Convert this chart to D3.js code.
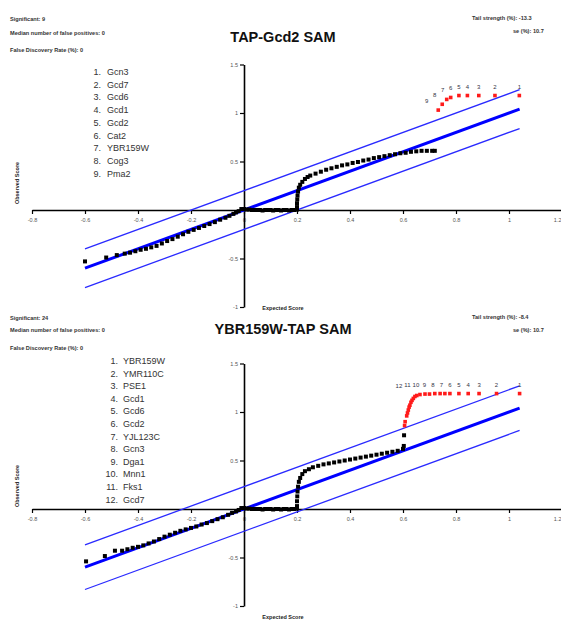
<!DOCTYPE html>
<html>
<head>
<meta charset="utf-8">
<script src="https://cdn.jsdelivr.net/npm/d3@7"></script>
<style>
  html, body { margin: 0; padding: 0; background: #fff; }
  svg { display: block; font-family: Arial, "Liberation Sans", sans-serif; }
</style>
</head>
<body>
<svg id="chart" width="561" height="621"></svg>
<script>
// ---------- DATA ----------
const xTicks = [-0.8, -0.6, -0.4, -0.2, 0, 0.2, 0.4, 0.6, 0.8, 1, 1.2];
const xTickLabels = ["-0.8", "-0.6", "-0.4", "-0.2", "0", "0.2", "0.4", "0.6", "0.8", "1", "1.2"];
const yTicks = [1.5, 1, 0.5, -0.5, -1];
const yTickLabels = ["1.5", "1", "0.5", "-0.5", "-1"];

// Panel 1: TAP-Gcd2 SAM
const title1 = "TAP-Gcd2 SAM";
const info1Left = ["Significant: 9", "Median number of false positives: 0", "False Discovery Rate (%): 0"];
const info1Right = ["Tail strength (%): -13.3", "se (%): 10.7"];
const genes1 = ["Gcn3", "Gcd7", "Gcd6", "Gcd1", "Gcd2", "Cat2", "YBR159W", "Cog3", "Pma2"];
const band1 = [-0.6, 1.04, 0.2]; // [start, end, delta] of reference lines
const black1Exp = [-0.60, -0.52, -0.48, -0.45, -0.43, -0.41, -0.39, -0.37, -0.35, -0.33, -0.31, -0.29, -0.27, -0.25, -0.23, -0.21, -0.19, -0.17, -0.15, -0.13, -0.11, -0.09, -0.07, -0.055, -0.04, -0.03, -0.02,
  -0.01, 0.00, 0.01, 0.02, 0.03, 0.04, 0.05, 0.06, 0.07, 0.08, 0.09, 0.10, 0.11, 0.12, 0.13, 0.14, 0.15, 0.16, 0.17, 0.18, 0.19, 0.20,
  0.200, 0.200, 0.201, 0.202, 0.204, 0.207, 0.212, 0.22, 0.23, 0.24, 0.25, 0.27, 0.29, 0.31, 0.33, 0.35, 0.37, 0.39, 0.41, 0.43, 0.45, 0.47, 0.49, 0.51, 0.53, 0.55, 0.57, 0.59, 0.61, 0.63, 0.65, 0.67, 0.69, 0.71, 0.72];
const black1Obs = [-0.53, -0.49, -0.465, -0.45, -0.44, -0.425, -0.41, -0.40, -0.385, -0.37, -0.345, -0.32, -0.30, -0.275, -0.25, -0.225, -0.205, -0.185, -0.165, -0.145, -0.125, -0.10, -0.08, -0.06, -0.04, -0.025, -0.012,
  0.01, 0.01, 0.005, 0.005, 0.0, 0.0, 0.0, 0.0, -0.005, 0.0, 0.0, 0.0, -0.005, 0.0, 0.0, -0.005, 0.0, 0.0, -0.005, 0.0, 0.0, 0.005,
  0.03, 0.07, 0.11, 0.15, 0.19, 0.23, 0.26, 0.29, 0.32, 0.34, 0.355, 0.375, 0.395, 0.415, 0.43, 0.445, 0.46, 0.47, 0.485, 0.495, 0.51, 0.52, 0.535, 0.545, 0.555, 0.565, 0.575, 0.585, 0.59, 0.60, 0.605, 0.61, 0.61, 0.61, 0.61];
const sig1Exp = [1.039, 0.947, 0.886, 0.843, 0.811, 0.78, 0.765, 0.748, 0.733];
const sig1Obs = [1.18, 1.18, 1.18, 1.18, 1.18, 1.16, 1.14, 1.09, 1.03];

// Panel 2: YBR159W-TAP SAM
const title2 = "YBR159W-TAP SAM";
const info2Left = ["Significant: 24", "Median number of false positives: 0", "False Discovery Rate (%): 0"];
const info2Right = ["Tail strength (%): -8.4", "se (%): 10.7"];
const genes2 = ["YBR159W", "YMR110C", "PSE1", "Gcd1", "Gcd6", "Gcd2", "YJL123C", "Gcn3", "Dga1", "Mnn1", "Fks1", "Gcd7"];
const band2 = [-0.6, 1.04, 0.23];
const black2Exp = [-0.596, -0.525, -0.487, -0.46, -0.44, -0.42, -0.40, -0.38, -0.36, -0.34, -0.32, -0.30, -0.28, -0.26, -0.24, -0.22, -0.20, -0.18, -0.16, -0.14, -0.12, -0.10, -0.08, -0.06, -0.045, -0.03, -0.02,
  -0.01, 0.00, 0.01, 0.02, 0.03, 0.04, 0.05, 0.06, 0.07, 0.08, 0.09, 0.10, 0.11, 0.12, 0.13, 0.14, 0.15, 0.16, 0.17, 0.18, 0.19, 0.20,
  0.200, 0.200, 0.201, 0.202, 0.204, 0.207, 0.212, 0.22, 0.23, 0.245, 0.26, 0.28, 0.30, 0.32, 0.34, 0.36, 0.38, 0.40, 0.42, 0.44, 0.46, 0.48, 0.50, 0.52, 0.54, 0.56, 0.58, 0.60, 0.603, 0.604];
const black2Obs = [-0.54, -0.485, -0.43, -0.43, -0.415, -0.40, -0.39, -0.375, -0.355, -0.335, -0.31, -0.285, -0.265, -0.245, -0.225, -0.21, -0.195, -0.18, -0.16, -0.145, -0.125, -0.105, -0.085, -0.06, -0.04, -0.025, -0.01,
  0.01, 0.01, 0.005, 0.005, 0.0, 0.0, 0.0, 0.0, -0.005, 0.0, 0.0, 0.0, -0.005, 0.0, 0.0, -0.005, 0.0, 0.0, -0.005, 0.0, 0.0, 0.005,
  0.03, 0.08, 0.13, 0.18, 0.23, 0.28, 0.32, 0.36, 0.39, 0.41, 0.43, 0.445, 0.46, 0.47, 0.48, 0.49, 0.50, 0.51, 0.52, 0.53, 0.54, 0.55, 0.56, 0.57, 0.58, 0.59, 0.60, 0.62, 0.65, 0.76];
const sig2Exp = [1.04, 0.953, 0.887, 0.846, 0.811, 0.777, 0.758, 0.74, 0.72, 0.70, 0.683, 0.664,
  0.652, 0.645, 0.639, 0.634, 0.630, 0.626, 0.623, 0.620, 0.617, 0.614, 0.608, 0.606];
const sig2Obs = [1.19, 1.19, 1.19, 1.19, 1.19, 1.19, 1.19, 1.19, 1.19, 1.185, 1.185, 1.18,
  1.17, 1.16, 1.14, 1.12, 1.10, 1.07, 1.05, 1.02, 0.99, 0.96, 0.90, 0.86];
const axisTitleX = "Expected Score";
const axisTitleY = "Observed Score";

// ---------- DRAWING ----------
const svg = d3.select("#chart");
const x = d3.scaleLinear().domain([-0.8, 1.2]).range([32, 562]);

function panel(cfg) {
  const g = svg.append("g");
  const y = d3.scaleLinear().domain([-1, 1.5]).range([cfg.zeroY + 97, cfg.zeroY - 145.5]);

  // title
  g.append("text").attr("x", 283).attr("y", cfg.titleY).attr("text-anchor", "middle")
    .attr("font-size", 14.5).attr("font-weight", "bold").attr("fill", "#111").text(cfg.title);

  // info texts
  cfg.infoLeft.forEach((t, i) => {
    g.append("text").attr("x", 10).attr("y", cfg.infoLeftY[i]).attr("font-size", 5.6)
      .attr("font-weight", "bold").attr("fill", "#333").text(t);
  });
  cfg.infoRight.forEach((t, i) => {
    g.append("text").attr("x", cfg.infoRightX[i]).attr("y", cfg.infoRightY[i]).attr("font-size", 5.6)
      .attr("font-weight", "bold").attr("fill", "#333").text(t);
  });

  // gene list
  cfg.genes.forEach((name, i) => {
    const yy = cfg.listY + i * cfg.listStep;
    g.append("text").attr("x", cfg.listNumX).attr("y", yy).attr("text-anchor", "end")
      .attr("font-size", 9).attr("fill", "#333").text((i + 1) + ".");
    g.append("text").attr("x", cfg.listNameX).attr("y", yy)
      .attr("font-size", 9).attr("fill", "#333").text(name);
  });

  // axes
  const xAxis = d3.axisBottom(x).tickValues(xTicks).tickSize(4).tickSizeOuter(0)
    .tickFormat((d, i) => xTickLabels[i]);
  const gx = g.append("g").attr("transform", `translate(0,${cfg.zeroY})`).call(xAxis);
  gx.select(".domain").attr("stroke", "#000").attr("stroke-width", 1.6);
  gx.selectAll(".tick line").attr("stroke", "#000").attr("stroke-width", 1.2);
  gx.selectAll(".tick text").attr("font-size", 5.5).attr("fill", "#555").attr("y", 8)
    .attr("font-family", "Arial, 'Liberation Sans', sans-serif");
  // keep the last tick label inside the page edge
  gx.selectAll(".tick text").filter(d => x(d) > 555).attr("text-anchor", "end").attr("x", -1);

  const yAxis = d3.axisLeft(y).tickValues(yTicks).tickSize(4).tickSizeOuter(0)
    .tickFormat((d, i) => yTickLabels[i]);
  const gy = g.append("g").attr("transform", `translate(${x(0)},0)`).call(yAxis);
  gy.select(".domain").attr("stroke", "#000").attr("stroke-width", 1.6);
  gy.selectAll(".tick line").attr("stroke", "#000").attr("stroke-width", 1.2);
  gy.selectAll(".tick text").attr("font-size", 5.5).attr("fill", "#555").attr("x", -6)
    .attr("font-family", "Arial, 'Liberation Sans', sans-serif");

  // axis titles
  g.append("text").attr("x", 283).attr("y", cfg.xTitleY).attr("text-anchor", "middle")
    .attr("font-size", 5.5).attr("font-weight", "bold").attr("fill", "#222").text(axisTitleX);
  g.append("text").attr("transform", `translate(19,${cfg.yTitleY}) rotate(-90)`).attr("text-anchor", "middle")
    .attr("font-size", 5.5).attr("font-weight", "bold").attr("fill", "#222").text(axisTitleY);

  // reference lines
  const [b0, b1, dlt] = cfg.band;
  [[-dlt, 1.3], [0, 3], [dlt, 1.3]].forEach(([off, w]) => {
    g.append("line").attr("x1", x(b0)).attr("y1", y(b0 + off)).attr("x2", x(b1)).attr("y2", y(b1 + off))
      .attr("stroke", off === 0 ? "#0000ff" : "#2a2aff").attr("stroke-width", w);
  });

  // black points
  const blk = cfg.bExp.map((e, i) => [e, cfg.bObs[i]]);
  g.selectAll(".bp").data(blk).enter().append("rect").attr("class", "bp")
    .attr("x", d => x(d[0]) - 2).attr("y", d => y(d[1]) - 2)
    .attr("width", 4).attr("height", 4).attr("fill", "#000");

  // significant points
  const sig = cfg.sExp.map((e, i) => [e, cfg.sObs[i]]);
  g.selectAll(".sp").data(sig).enter().append("rect").attr("class", "sp")
    .attr("x", d => x(d[0]) - 1.8).attr("y", d => y(d[1]) - 1.8)
    .attr("width", 3.6).attr("height", 3.6).attr("fill", "#ff1a1a");

  // rank labels (layout right-to-left with min gap)
  let prev = null;
  for (let i = 0; i < cfg.genes.length; i++) {
    const px = x(sig[i][0]);
    const lx = prev === null ? px : Math.min(px, prev - cfg.labelGap);
    prev = lx;
    g.append("text").attr("x", lx).attr("y", y(sig[i][1]) - 7).attr("text-anchor", "middle")
      .attr("font-size", 6).attr("fill", "#334").text(i + 1);
  }
}

panel({
  zeroY: 210, title: title1, titleY: 42,
  infoLeft: info1Left, infoLeftY: [21, 35, 52],
  infoRight: info1Right, infoRightX: [472, 513], infoRightY: [20, 33],
  genes: genes1, listY: 75, listStep: 12.7, listNumX: 101, listNameX: 107,
  xTitleY: 310, yTitleY: 183, band: band1,
  bExp: black1Exp, bObs: black1Obs, sExp: sig1Exp, sObs: sig1Obs, labelGap: 8
});

panel({
  zeroY: 509, title: title2, titleY: 334,
  infoLeft: info2Left, infoLeftY: [320, 332, 350],
  infoRight: info2Right, infoRightX: [472, 513], infoRightY: [319, 332],
  genes: genes2, listY: 364, listStep: 12.6, listNumX: 118, listNameX: 123,
  xTitleY: 619, yTitleY: 486, band: band2,
  bExp: black2Exp, bObs: black2Obs, sExp: sig2Exp, sObs: sig2Obs, labelGap: 8.5
});
</script>
</body>
</html>
